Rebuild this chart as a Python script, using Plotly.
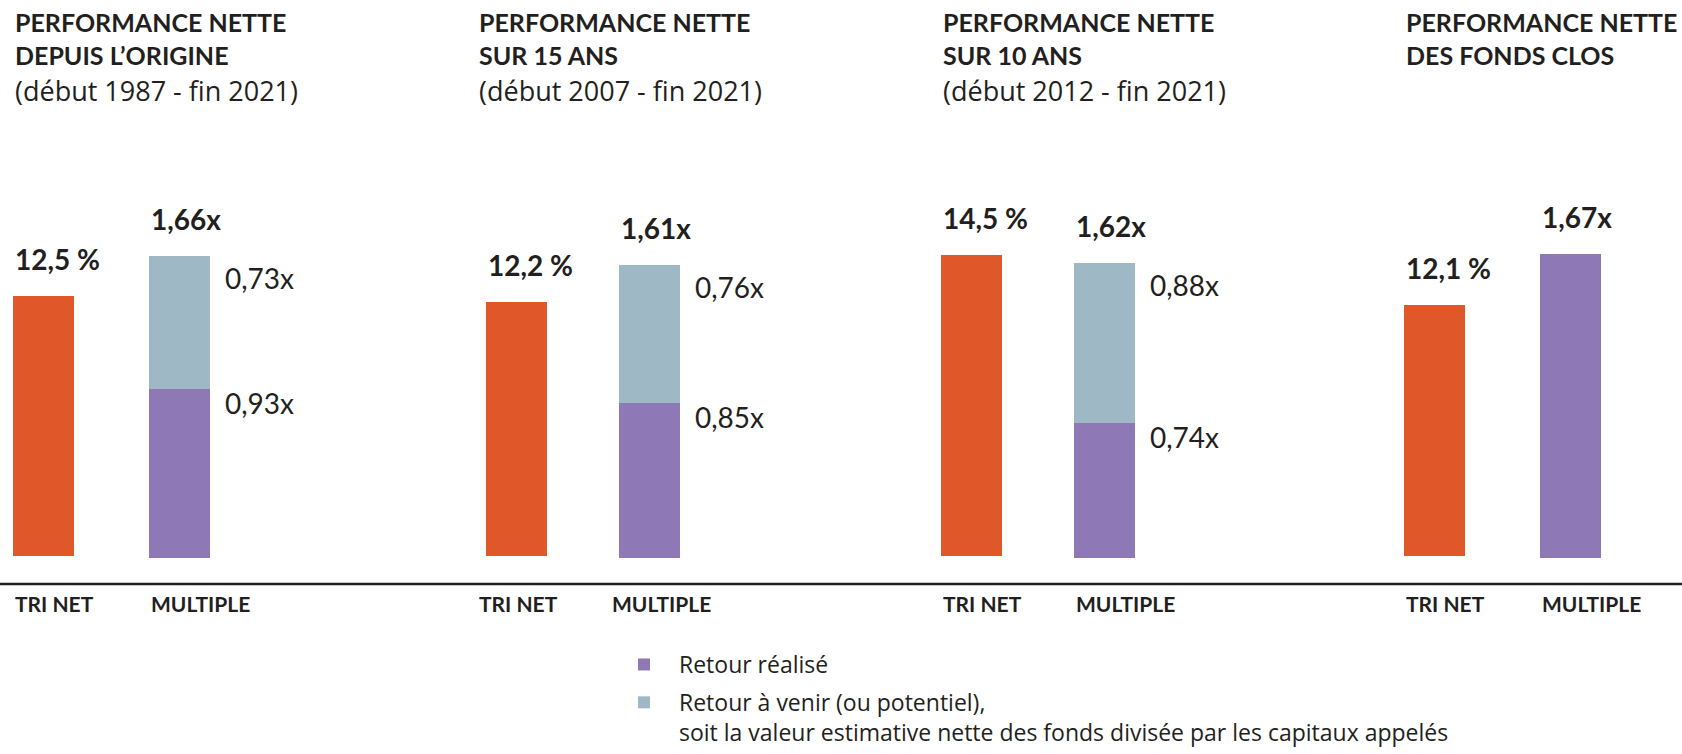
import plotly.graph_objects as go

# ---------------- data ----------------
panel_titles = [
    "PERFORMANCE NETTE<br>DEPUIS L’ORIGINE",
    "PERFORMANCE NETTE<br>SUR 15 ANS",
    "PERFORMANCE NETTE<br>SUR 10 ANS",
    "PERFORMANCE NETTE<br>DES FONDS CLOS",
]
panel_periods = ["(début 1987 - fin 2021)", "(début 2007 - fin 2021)", "(début 2012 - fin 2021)", ""]
categories = ["TRI NET", "MULTIPLE"]
tri_net = [12.5, 12.2, 14.5, 12.1]                 # %
multiple_realise = [0.93, 0.85, 0.74, 1.67]        # x
multiple_a_venir = [0.73, 0.76, 0.88, 0.0]         # x
legend_names = [
    "Retour réalisé",
    "Retour à venir (ou potentiel),<br>soit la valeur estimative nette des fonds divisée par les capitaux appelés",
]

# ---------------- style ----------------
W, H = 1682, 754
ORANGE = "#E0582A"
PURPLE = "#8E78B6"
BLUEGREY = "#9FB8C6"
TEXT = "#231F20"
FONT = "Lato"
FONT2 = "Open Sans"

tri_centers = [43.5, 516.5, 971.5, 1434.5]   # px centre of first bar per panel
cat_gaps = [136, 133, 133, 136]              # px between the two bars
bar_px = 61
text_dx = [0, -9, 0, 0]                      # small per-panel text offsets
plot_top_px, base_line_px = 140, 586
tri_zero_px, tri_scale = 557, 20.8           # px per %
mul_zero_px, mul_scale = 559, 182.0          # px per 1x

ydom = [(H - base_line_px) / H, (H - plot_top_px) / H]
tri_range = [-(base_line_px - tri_zero_px) / tri_scale, (tri_zero_px - plot_top_px) / tri_scale]
mul_range = [-(base_line_px - mul_zero_px) / mul_scale, (mul_zero_px - plot_top_px) / mul_scale]


def fr(v, nd):
    return f"{v:.{nd}f}".replace(".", ",")


fig = go.Figure()
layout = dict(
    width=W, height=H, margin=dict(l=0, r=0, t=0, b=0),
    paper_bgcolor="white", plot_bgcolor="white",
    barmode="stack", font=dict(family=FONT, color=TEXT),
    hovermode=False,
)
annotations = []

for i in range(4):
    xa = f"x{i + 1}" if i else "x"
    yt = f"y{2 * i + 1}" if i else "y"
    ym = f"y{2 * i + 2}"
    g = cat_gaps[i]
    L, R = 35, 35
    c1 = tri_centers[i]
    c2 = c1 + g
    layout[f"xaxis{i + 1 if i else ''}"] = dict(
        domain=[(c1 - L) / W, (c2 + R) / W], range=[-L / g, 1 + R / g],
        type="category", categoryarray=categories, categoryorder="array",
        showticklabels=False, showgrid=False, zeroline=False, showline=False,
        anchor=yt, fixedrange=True,
    )
    layout[f"yaxis{2 * i + 1 if i else ''}"] = dict(
        domain=ydom, range=tri_range, anchor=xa, visible=False, fixedrange=True,
    )
    layout[f"yaxis{2 * i + 2}"] = dict(
        domain=ydom, range=mul_range, anchor=xa, overlaying=yt, visible=False, fixedrange=True,
    )
    w = bar_px / g
    fig.add_trace(go.Bar(x=[categories[0]], y=[tri_net[i]], xaxis=xa, yaxis=yt, width=w,
                         marker=dict(color=ORANGE, line=dict(width=0)), showlegend=False))
    fig.add_trace(go.Bar(x=[categories[1]], y=[multiple_realise[i]], xaxis=xa, yaxis=ym, width=w,
                         marker=dict(color=PURPLE, line=dict(width=0)), name=legend_names[0],
                         legendgroup="real", showlegend=(i == 0)))
    fig.add_trace(go.Bar(x=[categories[1]], y=[multiple_a_venir[i]], xaxis=xa, yaxis=ym, width=w,
                         marker=dict(color=BLUEGREY, line=dict(width=0)), name=legend_names[1],
                         legendgroup="pot", showlegend=(i == 0)))

    half = bar_px / 2
    total = multiple_realise[i] + multiple_a_venir[i]
    # bold values above bars
    annotations.append(dict(xref=xa, yref=yt, x=categories[0], y=tri_net[i], text=f"<b>{fr(tri_net[i], 1)} %</b>",
                            xanchor="left", yanchor="middle", xshift=-half, yshift=37, showarrow=False,
                            font=dict(size=28, color=TEXT, family=FONT)))
    annotations.append(dict(xref=xa, yref=ym, x=categories[1], y=total, text=f"<b>{fr(total, 2)}x</b>",
                            xanchor="left", yanchor="middle", xshift=-half, yshift=37, showarrow=False,
                            font=dict(size=28, color=TEXT, family=FONT)))
    # segment values
    if multiple_a_venir[i] > 0:
        annotations.append(dict(xref=xa, yref=ym, x=categories[1], y=total, text=f"{fr(multiple_a_venir[i], 2)}x",
                                xanchor="left", yanchor="top", xshift=half + 13, yshift=-3, showarrow=False,
                                font=dict(size=28, color=TEXT, family=FONT)))
        annotations.append(dict(xref=xa, yref=ym, x=categories[1], y=multiple_realise[i],
                                text=f"{fr(multiple_realise[i], 2)}x",
                                xanchor="left", yanchor="top", xshift=half + 13, yshift=5, showarrow=False,
                                font=dict(size=28, color=TEXT, family=FONT)))
    # category labels under the base line
    for k, cat in enumerate(categories):
        annotations.append(dict(xref=xa, yref="paper", x=cat, y=(H - 605) / H, text=f"<b>{cat}</b>",
                                xanchor="left", yanchor="middle", xshift=-half + text_dx[i], showarrow=False,
                                font=dict(size=21, color=TEXT, family=FONT)))
    # panel titles
    annotations.append(dict(xref=xa, yref="paper", x=categories[0], y=1 - 5 / H, text=f"<b>{panel_titles[i]}</b>",
                            xanchor="left", yanchor="top", align="left", xshift=-half + text_dx[i],
                            showarrow=False, font=dict(size=25, color=TEXT, family=FONT)))
    if panel_periods[i]:
        annotations.append(dict(xref=xa, yref="paper", x=categories[0], y=1 - 91 / H, text=panel_periods[i],
                                xanchor="left", yanchor="middle", xshift=-half + text_dx[i],
                                showarrow=False, font=dict(size=27, color=TEXT, family=FONT2)))

layout["annotations"] = annotations
layout["shapes"] = [dict(type="line", xref="paper", yref="paper", x0=0, x1=1,
                         y0=(H - 585.5) / H, y1=(H - 585.5) / H,
                         line=dict(color=TEXT, width=2.5))]
layout["legend"] = dict(x=609 / W, y=1 - 645 / H, xanchor="left", yanchor="top",
                        traceorder="grouped", valign="top", itemwidth=60,
                        font=dict(size=23, color=TEXT, family=FONT2), bgcolor="rgba(0,0,0,0)",
                        tracegroupgap=5)
fig.update_layout(**layout)
fig.write_html("out.html", config={"displayModeBar": False},
               post_script="document.body.style.margin='0px';")
